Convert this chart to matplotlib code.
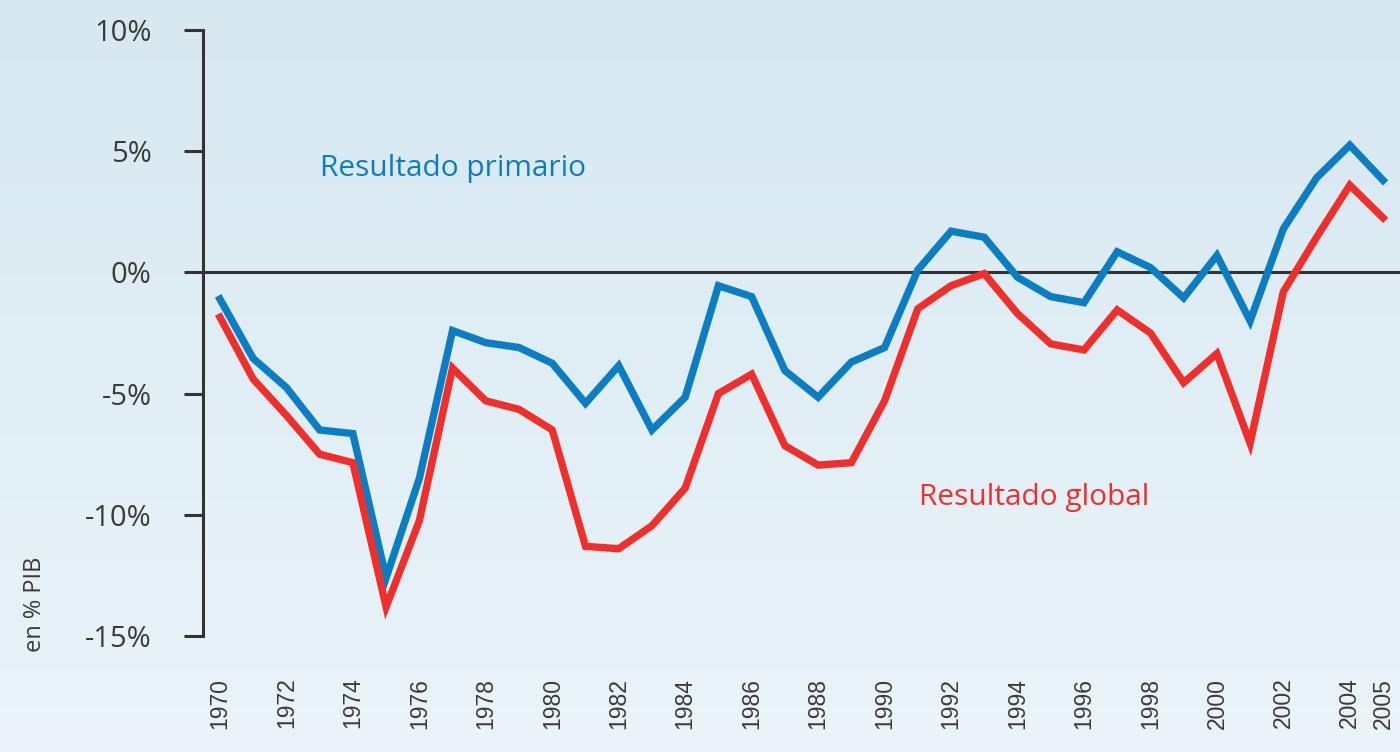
import numpy as np
import matplotlib.pyplot as plt

# --- data ---
years = list(range(1970, 2006))
primario = [-1.1, -3.55, -4.75, -6.5, -6.65, -12.6, -8.5, -2.4, -2.9, -3.1,
            -3.75, -5.4, -3.85, -6.5, -5.15, -0.55, -1.0, -4.05, -5.15, -3.7,
            -3.1, 0.1, 1.7, 1.45, -0.2, -1.0, -1.25, 0.85, 0.2, -1.05,
            0.7, -2.0, 1.8, 3.9, 5.25, 3.8]
global_ = [-1.85, -4.4, -5.9, -7.5, -7.85, -13.8, -10.25, -3.95, -5.3, -5.65,
           -6.5, -11.3, -11.4, -10.45, -8.9, -5.0, -4.2, -7.15, -7.95, -7.85,
           -5.3, -1.5, -0.55, -0.05, -1.7, -2.95, -3.2, -1.55, -2.5, -4.55,
           -3.35, -7.05, -0.8, 1.45, 3.6, 2.25]
tick_years = list(range(1970, 2005, 2)) + [2005]
yticks = [10, 5, 0, -5, -10, -15]

BLUE = "#0b7ec3"
RED = "#ee2f2c"
GREY = "#333333"

fig = plt.figure(figsize=(14, 7.52), dpi=100)

# background gradient
bg = fig.add_axes([0, 0, 1, 1], zorder=-10)
top = np.array([0.843, 0.910, 0.945])
bot = np.array([0.918, 0.957, 0.976])
t = np.linspace(0, 1, 256)[:, None]
grad = top[None, :] * (1 - t) + bot[None, :] * t
bg.imshow(grad[:, None, :], aspect="auto", extent=[0, 1, 0, 1])
bg.axis("off")

ax = fig.add_axes([203 / 1400, 116 / 752, 1197 / 1400, 606 / 752])
ax.patch.set_alpha(0)

ax.plot(years, primario, color=BLUE, lw=5.3, solid_joinstyle="miter", zorder=3)
ax.plot(years, global_, color=RED, lw=5.3, solid_joinstyle="miter", zorder=3)
ax.axhline(0, color=GREY, lw=2.2, zorder=2)

ax.set_ylim(-15, 10)
ax.set_xlim(1969.49, 2005.51)
ax.set_yticks(yticks)
ax.set_yticklabels([f"{v}%" for v in yticks], fontfamily="Open Sans",
                   fontsize=21, color="#3a3a3a")
ax.tick_params(axis="y", length=14, width=2.2, color=GREY, pad=23)
ax.set_xticks(tick_years)
ax.set_xticklabels([str(y) for y in tick_years], rotation=90,
                   fontfamily="Liberation Sans", fontsize=16.5, color="#3a3a3a")
ax.tick_params(axis="x", length=0, pad=30)

for s in ["top", "right", "bottom"]:
    ax.spines[s].set_visible(False)
ax.spines["left"].set_color(GREY)
ax.spines["left"].set_linewidth(2.2)

ax.text(1973.0, 4.3, "Resultado primario", color=BLUE, fontsize=21.5,
        fontfamily="Open Sans", va="center", ha="left")
ax.text(1991.05, -9.3, "Resultado global", color=RED, fontsize=21.5,
        fontfamily="Open Sans", va="center", ha="left")

fig.text(35 / 1400, (752 - 604) / 752, "en % PIB", rotation=90,
         fontfamily="Open Sans", fontsize=17, color="#3a3a3a",
         ha="center", va="center")

fig.savefig("out.png", dpi=100)
